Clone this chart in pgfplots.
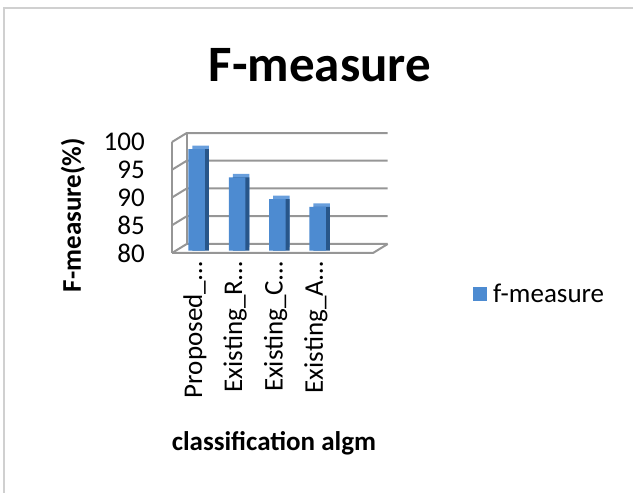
\documentclass[border=0pt]{standalone}
\usepackage{pgfplots}
\usepackage{pgfplotstable}
\pgfplotsset{compat=1.18}
\usepackage{fontspec}
\setmainfont{Carlito}

\definecolor{barfront}{RGB}{77,139,209}
\definecolor{barside}{RGB}{40,86,138}
\definecolor{bartop}{RGB}{104,158,220}
\definecolor{wallgrid}{RGB}{150,150,150}
\definecolor{frameline}{RGB}{208,208,208}

% F-measure (%) per classification algorithm
\pgfplotstableread{
idx value
0 98.3
1 93.2
2 89.3
3 87.9
}\fmeasure

\newcommand\txt{\fontsize{27}{32}\selectfont}

\pgfplotsset{
  plane/.style={scale only axis, width=201pt, height=111pt,
    xmin=-0.52, xmax=4.47, ymin=80, ymax=100, anchor=south west},
  barplane/.style={plane, hide axis, ybar, bar width=16.5pt},
}

\begin{document}
\begin{tikzpicture}
\useasboundingbox (0,0) rectangle (633pt,493pt);
\draw[frameline, line width=2pt] (4pt,0pt) -- (4pt,485pt) -- (633pt,485pt);
\node[font=\fontsize{51}{58}\selectfont\bfseries] at (320pt,428pt) {F-measure};

% front plane: walls, floor, tick labels and axis labels
\begin{axis}[plane, at={(172pt,240pt)}, clip=false,
  axis line style={draw=none}, tick style={draw=none},
  ytick={80,85,...,100}, xtick={0,1,2,3},
  xticklabels={Proposed\_…,Existing\_R…,Existing\_C…,Existing\_A…},
  ticklabel style={font=\txt},
  /pgf/number format/assume math mode=true,
  yticklabel style={anchor=east, inner sep=0pt, xshift=-27pt},
  xticklabel style={yshift=-9pt, xshift=2pt, rotate=90, anchor=east, inner sep=0pt},
  xlabel={classification algm}, ylabel={F-measure(\%)},
  label style={font=\txt\bfseries},
  xlabel style={at={(axis description cs:0.507,-1.712)}, anchor=center},
  ylabel style={at={(axis description cs:-0.4925,0.342)}, anchor=center},
]
\pgfplotsinvokeforeach{80,85,...,100}{
  \draw[wallgrid, line width=2pt, line join=round]
    (axis cs:-0.52,#1) -- ([shift={(14.7pt,9pt)}]axis cs:-0.52,#1)
    -- ([shift={(14.7pt,9pt)}]axis cs:4.47,#1);
}
\draw[wallgrid, line width=2pt] (axis cs:-0.52,80) -- (axis cs:-0.52,100);
\draw[wallgrid, line width=2pt]
  ([shift={(14.7pt,9pt)}]axis cs:-0.52,80) -- ([shift={(14.7pt,9pt)}]axis cs:-0.52,100);
\draw[wallgrid, line width=2pt, line join=round]
  (axis cs:-0.52,80) -- (axis cs:4.47,80) -- ++(14.7pt,9pt);
\end{axis}

% column depth: top faces
\begin{axis}[barplane, at={(179.8pt,245.8pt)}]
\addplot[fill=bartop, draw=none] table[x=idx, y=value] {\fmeasure};
\end{axis}

% column depth: side faces
\begin{axis}[barplane, at={(179.8pt,242.3pt)}]
\addplot[fill=barside, draw=none] table[x=idx, y=value] {\fmeasure};
\end{axis}

% column fronts
\begin{axis}[barplane, at={(175.8pt,242.3pt)},
  legend style={at={(1.4786,-0.390)}, anchor=west, draw=none, fill=none,
    inner sep=0pt, column sep=6pt, nodes={inner sep=0pt}, font=\txt},
  legend image code/.code={\fill[barfront] (0pt,-7pt) rectangle (14pt,7pt);},
]
\addplot[fill=barfront, draw=none] table[x=idx, y=value] {\fmeasure};
\addlegendentry{f-measure}
\end{axis}
\end{tikzpicture}
\end{document}
